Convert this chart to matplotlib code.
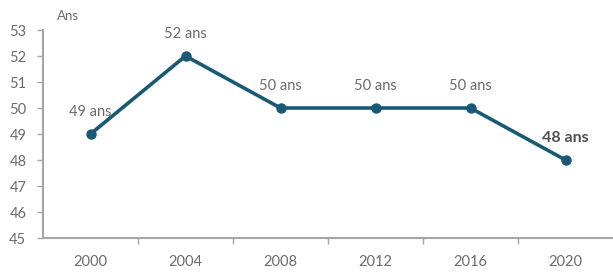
import matplotlib
matplotlib.use("Agg")
import matplotlib.pyplot as plt

# ── Data ─────────────────────────────────────────────────────
years = ["2000", "2004", "2008", "2012", "2016", "2020"]
ages = [49, 52, 50, 50, 50, 48]
labels = ["49 ans", "52 ans", "50 ans", "50 ans", "50 ans", "48 ans"]
y_ticks = [45, 46, 47, 48, 49, 50, 51, 52, 53]

line_color = "#185a75"
text_color = "#6b6b6b"
axis_color = "#a6a6a6"

plt.rcParams["font.family"] = ["Lato", "DejaVu Sans"]

fig = plt.figure(figsize=(6.13, 2.73), dpi=100, facecolor="white")
ax = fig.add_axes([43 / 613, 1 - 238 / 273, 1 - 43 / 613, (238 - 30) / 273])

x = list(range(len(years)))
ax.plot(x, ages, color=line_color, lw=2.6, marker="o", ms=6.5, zorder=3,
        clip_on=False)

for i, (xi, yi, lab) in enumerate(zip(x, ages, labels)):
    last = i == len(years) - 1
    ax.annotate(lab, (xi, yi), xytext=(0, 11), textcoords="offset points",
                ha="center", va="bottom",
                fontsize=11.5 if last else 10.5,
                fontweight="bold" if last else "normal",
                color="#505050" if last else text_color)

ax.set_xlim(-0.5, len(years) - 0.5)
ax.set_ylim(45, 53)
ax.set_yticks(y_ticks)
ax.set_xticks(x)
ax.set_xticklabels(years)
ax.set_xticks([i + 0.5 for i in range(len(years) - 1)], minor=True)

ax.tick_params(axis="y", direction="out", length=4, width=1, color=axis_color,
               labelcolor=text_color, labelsize=10.5, pad=8)
ax.tick_params(axis="x", which="major", length=0, labelcolor=text_color,
               labelsize=10.5, pad=12)
ax.tick_params(axis="x", which="minor", direction="out", length=4, width=1,
               color=axis_color)

for side in ["top", "right"]:
    ax.spines[side].set_visible(False)
for side in ["left", "bottom"]:
    ax.spines[side].set_color(axis_color)
    ax.spines[side].set_linewidth(1.5)

fig.text(57 / 613, 1 - 16 / 273, "Ans", fontsize=9.5, color=text_color,
         ha="left", va="center")

fig.savefig("out.png", dpi=100, facecolor="white")
